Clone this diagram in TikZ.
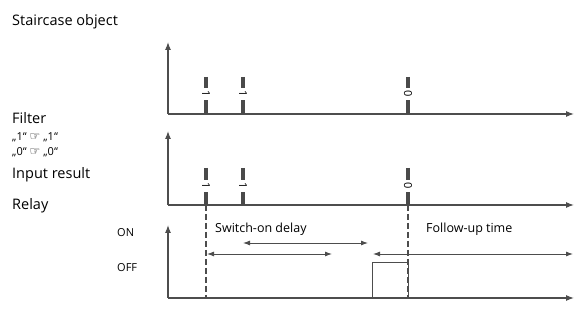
\documentclass[tikz,border=0pt]{standalone}
\usepackage{fontspec}
\setmainfont{Open Sans}
\newfontfamily\symfont{DejaVu Sans}
\usetikzlibrary{arrows.meta}
\definecolor{axisgray}{HTML}{4D4D4D}
\definecolor{bargray}{HTML}{4A4A4A}
\tikzset{
	axis/.style={axisgray, line width=1.1pt, -{Latex[length=8pt,width=6pt]}},
	pulse/.style={bargray, line width=3.5pt},
	pulselabel/.style={rotate=-90, fill=white, inner xsep=3pt, inner ysep=0.5pt, font=\fontsize{11}{11}\selectfont},
	marker/.style={axisgray, line width=1.3pt, dash pattern=on 6pt off 3pt},
	span/.style={axisgray, line width=0.9pt, {Latex[length=7pt,width=5pt]}-{Latex[length=7pt,width=5pt]}},
	title/.style={anchor=west, inner sep=0pt, font=\fontsize{14.5}{16}\selectfont},
	small/.style={anchor=west, inner sep=0pt, font=\fontsize{11}{12}\selectfont}
}
\begin{document}
\begin{tikzpicture}[x=1pt,y=-1pt]
	\useasboundingbox (0,0) rectangle (574,320);
	% row labels
	\node[title] (tStair) at (12,22) {Staircase object};
	\node[title] (tFilter) at (12,118) {Filter};
	\node[small] (tOne) at (12,137) {„1“ {\symfont\fontsize{12}{12}\selectfont ☞} „1“};
	\node[small] (tZero) at (12,152) {„0“ {\symfont\fontsize{12}{12}\selectfont ☞} „0“};
	\node[title] (tInput) at (12,175) {Input result};
	\node[title] (tRelay) at (12,206) {Relay};
	\node[small] (tOn) at (117,233) {ON};
	\node[small] (tOff) at (117,268) {OFF};
	% axes
	\coordinate (oA) at (168,114);
	\coordinate (oB) at (168,205);
	\coordinate (oC) at (168,298);
	\draw[axis] (oA) -- (168,42);
	\draw[axis] (oA) -- (574,114);
	\draw[axis] (oB) -- (168,131);
	\draw[axis] (oB) -- (574,205);
	\draw[axis] (oC) -- (168,225);
	\draw[axis] (oC) -- (574,298);
	% pulses of the staircase object and the input result
	\foreach \px/\v in {206/1,243/1,408/0}{
		\draw[pulse] (\px,77) -- (\px,114);
		\node[pulselabel] (pA\px) at (\px,94) {\v};
		\draw[pulse] (\px,168) -- (\px,205);
		\node[pulselabel] (pB\px) at (\px,186) {\v};
	}
	% relay
	\draw[marker] (206,205) -- (206,298);
	\draw[marker] (408,205) -- (408,298);
	\draw[axisgray, line width=0.8pt] (372,298) -- (372,262) -- (408,262) -- (408,298);
	\node[title, font=\fontsize{12.5}{14}\selectfont] (tDelay) at (215,229) {Switch-on delay};
	\node[title, font=\fontsize{12.5}{14}\selectfont] (tFollow) at (426,229) {Follow-up time};
	\draw[span] (243,243) -- (368,243);
	\draw[span] (207,254) -- (332,254);
	\draw[span] (373,254) -- (573,254);
\end{tikzpicture}
\end{document}
